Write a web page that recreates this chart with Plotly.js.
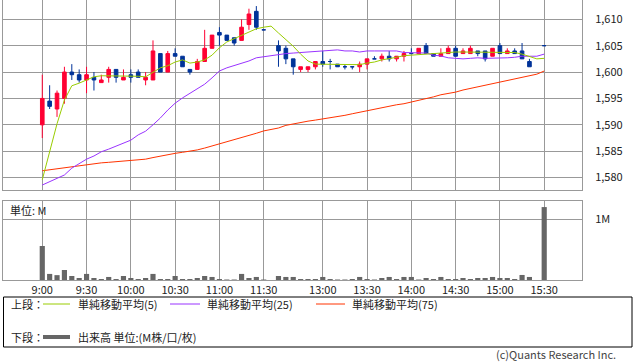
<!DOCTYPE html>
<html><head><meta charset="utf-8">
<script src="https://cdn.plot.ly/plotly-3.0.1.min.js"></script>
<style>html,body{margin:0;padding:0;background:#fff;}#chart{width:638px;height:362px;}</style>
</head><body><div id="chart"></div>
<script>
// ---- data (5-minute bars, index 0 = 9:00; 31 = lunch gap, 67 = pre-close gap) ----
const barIndex = [0,1,2,3,4,5,6,7,8,9,10,11,12,13,14,15,16,17,18,19,20,21,22,23,24,25,26,27,28,29,30,
  32,33,34,35,36,37,38,39,40,41,42,43,44,45,46,47,48,49,50,51,52,53,54,55,56,57,58,59,60,61,62,63,64,65,66,68];
const openP  = [1590,1594.5,1593,1595,1600,1599.5,1598.5,1599,1598,1599,1600.5,1598.5,1599.5,1600,1598.5,1598.5,1603.5,1600,1603.5,1603,1600.5,1600.5,1602,1604.5,1607.5,1607,1606.5,1606,1609,1611.5,1608,
  1605,1604.5,1602.5,1600.5,1600.5,1601,1602,1602,1601.5,1601,1601,1601,1601.5,1602.5,1602.5,1603,1602.5,1603,1603.5,1603.5,1605,1603.5,1603,1603.5,1604.5,1603.5,1603.5,1604,1604,1603,1605,1603.5,1604,1604,1602,1605];
const highP  = [1599.5,1597.5,1596.5,1601,1601.5,1600.5,1601,1600,1599.5,1601,1600.5,1600.5,1600.5,1600.5,1600,1606,1603.5,1604,1604.5,1603,1600.5,1602.5,1608,1607,1608.5,1607,1606.5,1610,1612,1612.5,1608,
  1606,1605,1602.5,1601,1601,1602,1604,1602.5,1601.5,1601.5,1601,1602,1602.5,1603,1603.5,1604,1603,1604,1604.5,1604.5,1605.5,1603.5,1604.5,1605,1605,1604.5,1605,1604,1604,1604.5,1605.5,1604.5,1604.5,1605.5,1602.5,1605];
const lowP   = [1587.5,1593,1591.5,1594,1598.5,1598,1596,1596.5,1598,1598,1598,1598.5,1598,1599,1597.5,1598.5,1600,1600,1603,1601,1599.5,1600.5,1602,1604.5,1605,1606,1605,1606,1608,1608,1608,
  1601,1601.5,1599.5,1600,1600,1600.5,1601,1600.5,1601,1600.5,1600.5,1600,1600.5,1602.5,1602,1602,1602,1602,1603.5,1603.5,1603.5,1603,1603,1603.5,1603,1603.5,1603.5,1603,1602,1603,1603.5,1603.5,1603.5,1602.5,1601,1605];
const closeP = [1595,1593.5,1596,1600,1599.5,1598.5,1599.5,1598.5,1598.5,1600.5,1599,1599,1599,1599,1599,1604,1600,1603.5,1603,1601,1600,1602,1604.5,1607,1607,1606,1605.5,1608.5,1611,1608.5,1608,
  1604,1602.5,1601,1601,1601,1602,1601.5,1602,1601,1601,1601,1601.5,1602.5,1602.5,1603,1602.5,1603,1603.5,1603.5,1604.5,1603.5,1603,1603.5,1604.5,1603,1604,1604.5,1603.5,1602.5,1604.5,1603.5,1604,1603.5,1602.5,1601,1605];
const volume = [0.56,0.10,0.08,0.165,0.066,0.033,0.10,0.033,0.016,0.05,0.016,0.066,0.033,0.016,0.033,0.10,0.016,0.016,0.066,0.016,0.016,0.033,0.066,0.05,0.016,0.008,0.008,0.10,0.033,0.05,0.008,
  0.066,0.05,0.05,0.016,0.016,0.016,0.05,0.016,0.008,0.008,0.016,0.05,0.016,0.008,0.033,0.05,0.016,0.05,0.05,0.008,0.033,0.016,0.05,0.016,0.016,0.033,0.016,0.033,0.033,0.05,0.033,0.033,0.016,0.083,0.05,1.20];

const maIndex = Array.from({length: 69}, (_, i) => i);
const ma5  = [1579.6,1584.9,1590.2,1594.7,1597.4,1597.9,1598.5,1599.1,1599.3,1599.3,1599.2,1599.3,1599.3,1599.2,1599.1,1600.0,1600.8,1601.2,1601.9,1602.3,1601.7,1601.9,1602.3,1603.2,1604.6,1605.7,1606.3,1607.0,1607.6,1608.2,1608.5,1608.7,
  1607.4,1606.1,1604.9,1603.4,1602.1,1601.5,1601.5,1601.5,1601.5,1601.5,1601.4,1601.4,1601.7,1601.9,1602.3,1602.5,1602.8,1603.1,1603.2,1603.4,1603.5,1603.6,1603.6,1603.8,1603.8,1603.8,1603.8,1603.8,1603.8,1603.8,1603.8,1603.8,1603.7,1603.4,1602.9,1602.5,1602.6];
const ma25 = [1578.6,1579.2,1579.8,1580.5,1581.8,1582.6,1583.5,1584.1,1584.9,1585.4,1586.0,1586.6,1587.1,1588.1,1588.8,1590.0,1591.3,1592.8,1594.1,1595.1,1596.0,1596.8,1597.7,1598.9,1600.2,1600.8,1601.2,1601.7,1602.1,1602.7,1602.9,1603.1,
  1603.4,1603.5,1603.6,1603.7,1603.8,1603.9,1604.0,1604.2,1604.2,1604.0,1604.0,1603.8,1604.0,1604.0,1604.0,1604.0,1604.0,1603.7,1603.7,1603.7,1603.6,1603.2,1603.05,1602.7,1602.6,1602.5,1602.6,1602.7,1602.6,1602.6,1602.6,1602.7,1602.8,1603.0,1603.0,1603.0,1603.4];
const ma75 = [1581.3,1581.5,1581.7,1581.85,1582.0,1582.2,1582.5,1582.6,1582.8,1582.9,1583.0,1583.2,1583.3,1583.4,1583.5,1583.8,1584.1,1584.3,1584.6,1584.8,1585.0,1585.25,1585.6,1586.0,1586.4,1586.8,1587.1,1587.5,1588.0,1588.4,1588.85,1589.1,
  1589.4,1589.9,1590.2,1590.45,1590.7,1590.9,1591.1,1591.4,1591.6,1591.8,1592.1,1592.4,1592.6,1592.9,1593.2,1593.5,1593.8,1594.0,1594.3,1594.7,1595.0,1595.3,1595.7,1595.95,1596.2,1596.6,1596.9,1597.2,1597.55,1597.8,1598.1,1598.5,1598.7,1599.1,1599.35,1599.6,1600.2];

const tickIndex  = [0,6,12,18,24,30,38,44,50,56,62,68];
const tickLabels = ['9:00','9:30','10:00','10:30','11:00','11:30','13:00','13:30','14:00','14:30','15:00','15:30'];
const priceTicks = [1580,1585,1590,1595,1600,1605,1610];

// ---- colours ----
const RED = '#ff0033', BLUE = '#003399', C5 = '#99cc00', C25 = '#9933ff', C75 = '#ff3300', VOL = '#666666', GRID = '#999999';

// split candles so doji are drawn blue like the reference
function pick(cond) {
  const o = {x: [], open: [], high: [], low: [], close: []};
  barIndex.forEach((x, i) => {
    if (cond(openP[i], closeP[i])) {
      o.x.push(x); o.open.push(openP[i]); o.high.push(highP[i]); o.low.push(lowP[i]); o.close.push(closeP[i]);
    }
  });
  return o;
}
const up = pick((o, c) => c > o), dn = pick((o, c) => c <= o);
function candle(d, col) {
  return Object.assign({type: 'candlestick', xaxis: 'x', yaxis: 'y', hoverinfo: 'skip',
    increasing: {line: {color: col, width: 1}, fillcolor: col},
    decreasing: {line: {color: col, width: 1}, fillcolor: col}, whiskerwidth: 0}, d);
}
const traces = [
  {type: 'bar', x: barIndex, y: volume, xaxis: 'x2', yaxis: 'y2', width: 0.7, marker: {color: VOL, line: {width: 0}}, hoverinfo: 'skip'},
  candle(up, RED), candle(dn, BLUE),
  {type: 'scatter', mode: 'lines', x: maIndex, y: ma75, xaxis: 'x', yaxis: 'y', line: {color: C75, width: 1}, hoverinfo: 'skip'},
  {type: 'scatter', mode: 'lines', x: maIndex, y: ma25, xaxis: 'x', yaxis: 'y', line: {color: C25, width: 1}, hoverinfo: 'skip'},
  {type: 'scatter', mode: 'lines', x: maIndex, y: ma5, xaxis: 'x', yaxis: 'y', line: {color: C5, width: 1}, hoverinfo: 'skip'}
];

// ---- layout geometry ----
const L = 3, R = 56, T = 0, B = 82, W = 638 - L - R, H = 362 - T - B;
const px = X => (X - L) / W, py = Y => (T + H - Y) / H;
const xRange = [-5.32, 73.12];
const FONT = 'Noto Sans CJK JP, Noto Sans, sans-serif';
const axCommon = {showgrid: true, gridcolor: GRID, gridwidth: 1, zeroline: false, showline: true, mirror: true,
  linecolor: GRID, linewidth: 1, ticks: '', fixedrange: true};

const annotations = [
  {text: '単位: M', x: px(8), y: py(210), xanchor: 'left', yanchor: 'middle'},
  {text: '上段：', x: px(9), y: py(304), xanchor: 'left', yanchor: 'middle'},
  {text: '単純移動平均(5)', x: px(76), y: py(304), xanchor: 'left', yanchor: 'middle'},
  {text: '単純移動平均(25)', x: px(205), y: py(304), xanchor: 'left', yanchor: 'middle'},
  {text: '単純移動平均(75)', x: px(350), y: py(304), xanchor: 'left', yanchor: 'middle'},
  {text: '下段：', x: px(9), y: py(337), xanchor: 'left', yanchor: 'middle'},
  {text: '出来高 単位:(M株/口/枚)', x: px(76), y: py(337), xanchor: 'left', yanchor: 'middle'},
  {text: '(c)Quants Research Inc.', x: px(618), y: py(354), xanchor: 'right', yanchor: 'middle', font: {size: 11, color: '#444', family: FONT}}
].map(a => Object.assign({xref: 'paper', yref: 'paper', showarrow: false, font: {size: 11, color: '#222', family: FONT}}, a));

const seg = (x0, x1, y, col, w) => ({type: 'line', xref: 'paper', yref: 'paper', x0: px(x0), x1: px(x1), y0: py(y), y1: py(y), line: {color: col, width: w}});
const shapes = [
  {type: 'rect', xref: 'paper', yref: 'paper', x0: px(3.5), x1: px(632), y0: py(297), y1: py(347), line: {color: '#000', width: 1}},
  seg(43, 70, 304, C5, 1), seg(170, 200, 304, C25, 1), seg(316, 345, 304, C75, 1), seg(43, 70, 337, VOL, 4)
];

const layout = {
  width: 638, height: 362, margin: {l: L, r: R, t: T, b: B},
  paper_bgcolor: '#fff', plot_bgcolor: '#fff', showlegend: false, boxgap: 0.3, bargap: 0.3,
  font: {family: FONT, size: 11, color: '#222'},
  xaxis: Object.assign({}, axCommon, {domain: [0, 1], anchor: 'y', range: xRange, tickvals: tickIndex, showticklabels: false, rangeslider: {visible: false}}),
  yaxis: Object.assign({}, axCommon, {domain: [py(190.3), 1], anchor: 'x', side: 'right', range: [1577.6, 1613.65], tickvals: priceTicks, tickformat: ',d', ticklabelstandoff: 10}),
  xaxis2: Object.assign({}, axCommon, {domain: [0, 1], anchor: 'y2', range: xRange, tickvals: tickIndex, ticktext: tickLabels, ticklabelstandoff: 0}),
  yaxis2: Object.assign({}, axCommon, {domain: [0, py(201)], anchor: 'x2', side: 'right', range: [0, 1.30], tickvals: [1], ticktext: ['1M'], ticklabelstandoff: 10}),
  annotations: annotations, shapes: shapes
};
Plotly.newPlot('chart', traces, layout, {displayModeBar: false, staticPlot: true});
</script></body></html>
